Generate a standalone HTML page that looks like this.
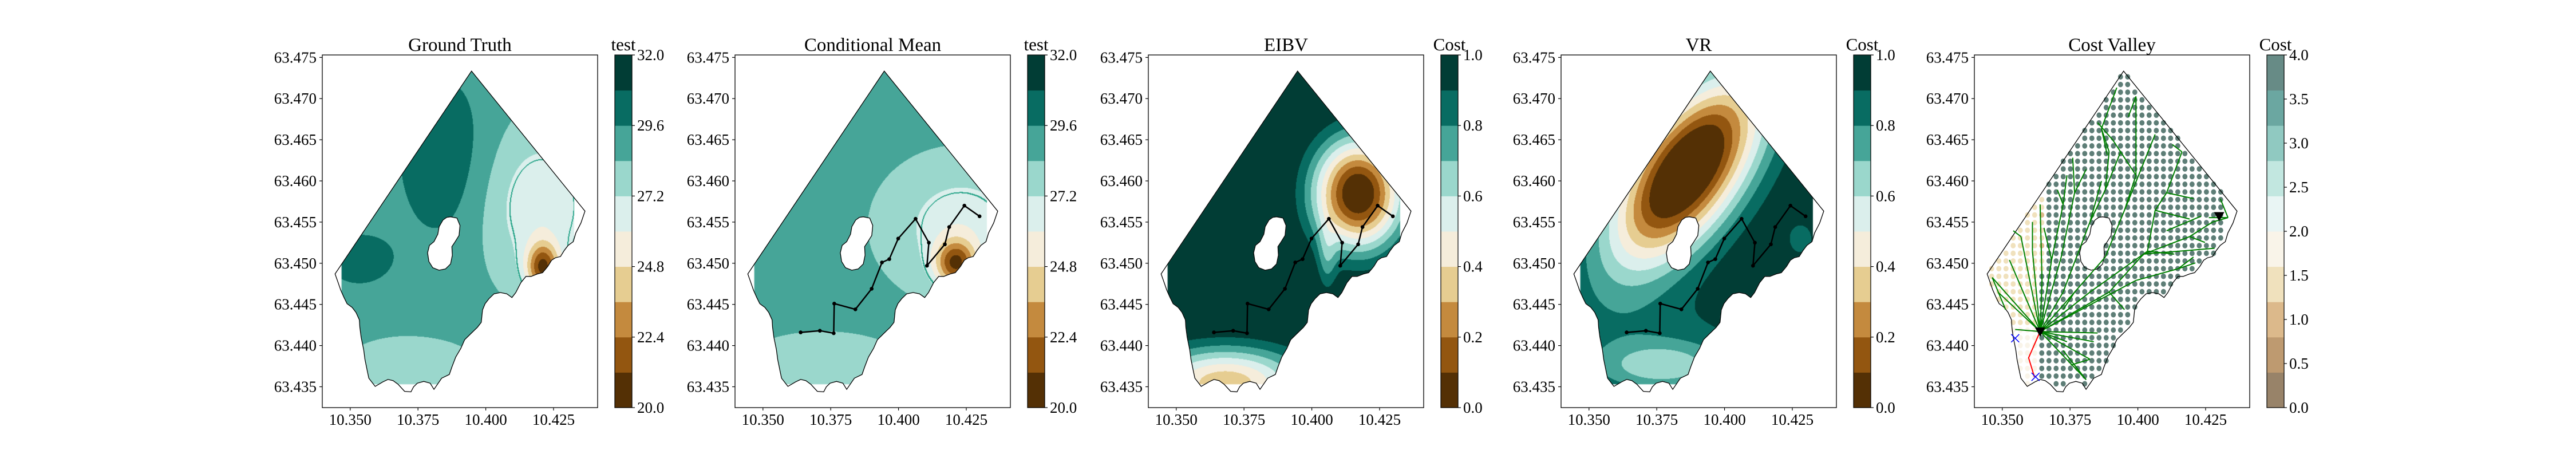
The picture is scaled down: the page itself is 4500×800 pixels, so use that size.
<!DOCTYPE html>
<html><head><meta charset="utf-8"><style>
body{margin:0;width:4500px;height:800px;position:relative;overflow:hidden;background:#fff;font-family:"Liberation Serif",serif}
canvas{position:absolute}
svg{position:absolute;left:0;top:0}
</style></head><body>
<div id="cv"></div>
<svg id="svg" width="4500" height="800" xmlns="http://www.w3.org/2000/svg"></svg>
<script>
// ---- axis constants ----
const LEFTS=[563,1284,2006,2727,3449];
const AXW=481, AXH=616, AXT=96;
const LON0=10.3397, LAT0=63.4753, KX=4736, KY=14380;
function X(i,lon){return LEFTS[i]+(lon-LON0)*KX;}
function Y(lat){return AXT+(LAT0-lat)*KY;}
// ---- data ----
const titles=["Ground Truth","Conditional Mean","EIBV","VR","Cost Valley"];
const cbTitles=["test","test","Cost","Cost","Cost"];
const xTicks=[10.350,10.375,10.400,10.425];
const yTicks=[63.435,63.440,63.445,63.450,63.455,63.460,63.465,63.470,63.475];
const cbMin=[20,20,0,0,0], cbMax=[32,32,1,1,4];
const tickTest=[20.0,22.4,24.8,27.2,29.6,32.0];
const tickUnit=[0.0,0.2,0.4,0.6,0.8,1.0];
const tickCost=[0.0,0.5,1.0,1.5,2.0,2.5,3.0,3.5,4.0];
const BRBG=['#543005','#935610','#c48a3e','#e6cd91','#f5eddb','#dbefec','#9ad7cc','#46a598','#086c62','#013d35'];
// field components: [lon, lat, sigmaAlong, sigmaAcross, angleDeg, amplitude]
const gtBase=28.8;
const gtBumps=[[10.384,63.463,60,110,0,1.7],[10.353,63.4505,45,35,0,1.6],[10.420,63.457,70,95,0,-2.6],[10.372,63.437,80,40,0,-1.3],[10.421,63.4495,20,30,0,-6.8]];
const cmBase=28.7;
const cmBumps=[[10.362,63.468,250,42,56,1.6],[10.423,63.4545,80,70,0,-2.4],[10.421,63.450,25,28,0,-6.5],[10.372,63.437,90,40,0,-1.3]];
const eibvBase=1.05;
const eibvBumps=[[10.417,63.4585,55,68,0,-1.08],[10.368,63.4355,100,45,0,-0.72],[10.4055,63.4505,12,45,0,-0.2]];
const vrBase=1.0;
const vrBumps=[[10.386,63.4612,135,64,55,-1.15],[10.377,63.4375,80,30,0,-0.28],[10.375,63.440,150,70,0,-0.12],[10.428,63.453,20,25,0,-0.15]];
// path (lon, lat)
const pathLon=[10.3639,10.3710,10.3761,10.3763,10.3841,10.3901,10.3939,10.3966,10.3999,10.4063,10.4112,10.4105,10.4171,10.4187,10.4243,10.4299];
const pathLat=[63.4416,63.4418,63.4415,63.4451,63.4444,63.4469,63.4501,63.4505,63.4530,63.4554,63.4525,63.4497,63.4523,63.4544,63.4570,63.4557];
// boundary traced (reference-crop coordinates -> lon/lat)
const bRef=[[817,148],[1261,712],[1245,760],[1225,800],[1215,835],[1195,850],[1180,870],[1165,895],[1145,900],[1130,910],[1115,935],[1095,960],[1075,965],[1050,975],[1030,975],[1010,1000],[990,1040],[975,1060],[955,1045],[930,1040],[905,1045],[885,1065],[870,1085],[860,1110],[855,1160],[840,1180],[815,1205],[790,1230],[775,1265],[755,1300],[740,1340],[730,1370],[700,1385],[670,1430],[655,1405],[630,1398],[605,1405],[590,1420],[580,1440],[555,1438],[530,1410],[510,1395],[490,1390],[470,1400],[440,1418],[415,1385],[410,1360],[405,1335],[400,1310],[395,1270],[385,1220],[380,1180],[378,1150],[365,1120],[350,1100],[330,1085],[318,1060],[305,1030],[295,1000],[283,965]];
const iRef=[[735,735],[760,740],[772,770],[768,810],[750,840],[740,855],[742,890],[735,925],[715,945],[690,950],[665,940],[650,915],[645,880],[652,850],[670,835],[685,805],[690,775],[705,748],[720,737]];
function ref3(p){const ox=1180+p[0]/2.24, oy=60+p[1]/2.306;return [LON0+(ox-1284)/KX, LAT0-(oy-96)/KY];}
function ref2(p){const ox=3450+p[0]/1.493, oy=p[1]/1.96;return [LON0+(ox-3449)/KX, LAT0-(oy-96)/KY];}
const boundary=bRef.map(ref3), island=iRef.map(ref3);
const fillLonMin=10.3468, fillLonMax=10.4326, fillLatMin=63.4353;
// cost valley
const thrLat=[63.430,63.442,63.457,63.480], thrLon=[10.3626,10.3626,10.3669,10.3669];
const brownSpots=[[10.3662,63.4555],[10.3655,63.4525],[10.3662,63.4520],[10.3640,63.4558]];
const treeRef=[[170,1135,105,1128],[170,1135,45,950],[170,1135,60,1000],[170,1135,90,890],[170,1135,120,810],[170,1135,150,860],[170,1135,175,960],[175,960,170,700],[170,1135,200,890],[200,890,230,700],[230,700,215,650],[170,1135,225,880],[225,880,260,660],[260,660,255,540],[170,1135,230,1000],[230,1000,300,760],[300,760,340,650],[340,650,350,520],[350,520,330,440],[170,1135,260,1000],[260,1000,340,880],[340,880,390,720],[390,720,420,600],[420,600,420,330],[170,1135,300,1000],[300,1000,450,860],[450,860,470,720],[470,720,500,660],[500,660,540,520],[540,520,515,495],[170,1135,350,1000],[350,1000,440,870],[440,870,560,810],[560,810,620,760],[620,760,660,745],[660,745,640,680],[170,1135,420,960],[420,960,530,920],[530,920,575,900],[170,1135,320,1140],[170,1135,310,1170],[170,1135,300,1230],[170,1135,240,1170],[170,1135,290,1300],[290,1300,230,1200],[350,1000,390,1060],[440,870,625,850],[500,790,590,740],[390,720,470,460],[340,650,380,520],[300,760,330,620],[420,600,360,480],[330,440,345,530],[330,440,370,300],[230,700,240,600],[470,720,560,750],[530,920,570,880],[500,660,570,680],[610,745,660,745],[260,660,290,580],[200,890,180,780],[420,330,400,400],[360,480,320,420],[450,860,520,870],[560,810,600,830],[150,860,150,760],[120,810,100,790],[45,950,80,1060],[260,1000,230,1060],[300,1230,250,1250]];
const redRef=[[170,1135],[140,1225],[155,1290]];
const xRef=[[105,1158],[158,1290]];
const triRef=[[170,1135],[637,740]];

function blend(h){const r=parseInt(h.substr(1,2),16),g=parseInt(h.substr(3,2),16),b=parseInt(h.substr(5,2),16);
 return [Math.round(102+0.6*r),Math.round(102+0.6*g),Math.round(102+0.6*b)];}
function hex(h){return [parseInt(h.substr(1,2),16),parseInt(h.substr(3,2),16),parseInt(h.substr(5,2),16)];}
function rgbStr(c){return 'rgb('+c[0]+','+c[1]+','+c[2]+')';}
function pip(poly,lon,lat){let ins=false;for(let i=0,j=poly.length-1;i<poly.length;j=i++){const xi=poly[i][0],yi=poly[i][1],xj=poly[j][0],yj=poly[j][1];
 if(((yi>lat)!=(yj>lat))&&(lon<(xj-xi)*(lat-yi)/(yj-yi)+xi))ins=!ins;}return ins;}
function field(base,bumps,lon,lat){let f=base;for(const b of bumps){const dx=(lon-b[0])*KX,dy=(lat-b[1])*KY,a=b[4]*Math.PI/180;
 const u=dx*Math.cos(a)+dy*Math.sin(a),v=-dx*Math.sin(a)+dy*Math.cos(a);f+=b[5]*Math.exp(-0.5*((u/b[2])**2+(v/b[3])**2));}return f;}

const svg=document.getElementById('svg');const NS='http://www.w3.org/2000/svg';
function mk(tag,attrs,parent){const e=document.createElementNS(NS,tag);for(const k in attrs)e.setAttribute(k,attrs[k]);(parent||svg).appendChild(e);return e;}
function txt(x,y,s,size,anchor,parent){const t=mk('text',{x:x,y:y,'font-size':size,'text-anchor':anchor,'font-family':'Liberation Serif, serif',fill:'#000'},parent);t.textContent=s;return t;}

const fields=[[gtBase,gtBumps],[cmBase,cmBumps],[eibvBase,eibvBumps],[vrBase,vrBumps]];
const cvHolder=document.getElementById('cv');
for(let p=0;p<4;p++){
 const cv=document.createElement('canvas');cv.width=AXW;cv.height=AXH;cv.style.left=LEFTS[p]+'px';cv.style.top=AXT+'px';
 
 
 cvHolder.appendChild(cv);
 const off=document.createElement('canvas');off.width=AXW;off.height=AXH;const octx=off.getContext('2d');
 const img=octx.createImageData(AXW,AXH);const F=new Float32Array(AXW*AXH);
 const lo=cbMin[p],hi=cbMax[p];
 for(let py=0;py<AXH;py++)for(let px=0;px<AXW;px++){const lon=LON0+px/KX,lat=LAT0-py/KY;F[py*AXW+px]=field(fields[p][0],fields[p][1],lon,lat);}
 for(let py=0;py<AXH;py++)for(let px=0;px<AXW;px++){const k=py*AXW+px;const f=F[k];
  let idx=Math.floor((f-lo)/(hi-lo)*10);idx=Math.max(0,Math.min(9,idx));let c=hex(BRBG[idx]);
  if(p<2){const a=F[k]-27.0;const r=py<AXH-2?F[k+2*AXW]-27.0:a, q=px<AXW-2?F[k+2]-27.0:a;if(a*r<0||a*q<0)c=[42,165,138];}
  img.data[k*4]=c[0];img.data[k*4+1]=c[1];img.data[k*4+2]=c[2];img.data[k*4+3]=255;}
 octx.putImageData(img,0,0);
 const ctx=cv.getContext('2d');ctx.save();
 ctx.beginPath();ctx.rect((fillLonMin-LON0)*KX,0,(fillLonMax-fillLonMin)*KX,(LAT0-fillLatMin)*KY);ctx.clip();
 ctx.beginPath();for(const poly of [boundary,island]){poly.forEach((q,i)=>{const x=(q[0]-LON0)*KX,y=(LAT0-q[1])*KY;i?ctx.lineTo(x,y):ctx.moveTo(x,y);});ctx.closePath();}
 ctx.clip('evenodd');ctx.drawImage(off,0,0);ctx.restore();
}

for(let p=0;p<5;p++){
 const g=mk('g',{});
 
 
 const L=LEFTS[p];
 if(p===4){
  const dg=mk('g',{},g);
  
  
  for(let j=-30;j<60;j++)for(let i=-40;i<60;i++){const lon=10.36721+i*0.00264,lat=63.45307+j*0.000932;
   if(lat<fillLatMin||lon>fillLonMax)continue;if(!pip(boundary,lon,lat)||pip(island,lon,lat))continue;
   let t=thrLon[0];for(let k=0;k<thrLat.length-1;k++)if(lat>=thrLat[k]&&lat<thrLat[k+1])t=thrLon[k]+(thrLon[k+1]-thrLon[k])*(lat-thrLat[k])/(thrLat[k+1]-thrLat[k]);
   let cost=3.9;if(lon<t){cost=lat<63.4425?1.8:1.3;for(const b of brownSpots)if(Math.abs(b[0]-lon)<0.0013&&Math.abs(b[1]-lat)<0.0005)cost=1.0;}
   const idx=Math.min(9,Math.floor(cost/0.4));const col=idx===9?'#5e7e77':rgbStr(blend(BRBG[idx]));
   const d=mk('ellipse',{cx:X(p,lon),cy:Y(lat),rx:4.4,ry:4.8,fill:col},dg);
   
   }
 }
 const bp=mk('path',{d:[boundary,island].map(poly=>poly.map((q,i)=>(i?'L':'M')+X(p,q[0]).toFixed(1)+' '+Y(q[1]).toFixed(1)).join('')+'Z').join(''),fill:'none',stroke:'#000','stroke-width':1.3},g);
 
 
 if(p>=1&&p<=3){
  const pl=mk('polyline',{points:pathLon.map((v,k)=>X(p,v).toFixed(1)+','+Y(pathLat[k]).toFixed(1)).join(' '),fill:'none',stroke:'#000','stroke-width':2.5},g);
  
  
  pathLon.forEach((v,k)=>{const c=mk('circle',{cx:X(p,v),cy:Y(pathLat[k]),r:3.3,fill:'#000'},g);
   
   });
 }
 if(p===4){
  treeRef.forEach(e=>{const a=ref2([e[0],e[1]]),b=ref2([e[2],e[3]]);
   const l=mk('line',{x1:X(p,a[0]),y1:Y(a[1]),x2:X(p,b[0]),y2:Y(b[1]),stroke:'#008000','stroke-width':2},g);
   
   });
  const rp=redRef.map(ref2);
  const rl=mk('polyline',{points:rp.map(q=>X(p,q[0])+','+Y(q[1])).join(' '),fill:'none',stroke:'#ff0000','stroke-width':2},g);
  
  
  xRef.map(ref2).forEach(q=>{const x=X(p,q[0]),y=Y(q[1]);
   const m=mk('path',{d:`M${x-7} ${y-7}L${x+7} ${y+7}M${x-7} ${y+7}L${x+7} ${y-7}`,stroke:'#0000ff','stroke-width':1.5,fill:'none'},g);
   
   });
  triRef.map(ref2).forEach(q=>{const x=X(p,q[0]),y=Y(q[1]);
   const m=mk('path',{d:`M${x-9} ${y-7}L${x+9} ${y-7}L${x} ${y+9}Z`,fill:'#000'},g);
   
   });
 }
 const fr=mk('rect',{x:L,y:AXT,width:AXW,height:AXH,fill:'none',stroke:'#000','stroke-width':1.3},g);
 
 
 const tt=txt(L+AXW/2,89,titles[p],33,'middle',g);
 
 
 xTicks.forEach(v=>{const x=X(p,v);mk('line',{x1:x,y1:AXT+AXH,x2:x,y2:AXT+AXH+5,stroke:'#000','stroke-width':1.2},g);
  const t=txt(x,742,v.toFixed(3),27,'middle',g);
  
  });
 yTicks.forEach(v=>{const y=Y(v);mk('line',{x1:L-5,y1:y,x2:L,y2:y,stroke:'#000','stroke-width':1.2},g);
  const t=txt(L-10,y+9,v.toFixed(3),27,'end',g);
  
  });
 const cb=mk('g',{},g);
 
 
 const cx=L+511,cw=30,bh=AXH/10;
 for(let k=0;k<10;k++){const col=p===4?rgbStr(blend(BRBG[k])):BRBG[k];
  const r=mk('rect',{x:cx,y:AXT+AXH-(k+1)*bh,width:cw,height:bh+0.5,fill:col},cb);
  
  }
 mk('rect',{x:cx,y:AXT,width:cw,height:AXH,fill:'none',stroke:'#000','stroke-width':1.2},cb);
 const ticks=p<2?tickTest:(p<4?tickUnit:tickCost);
 ticks.forEach(v=>{const y=AXT+AXH-(v-cbMin[p])/(cbMax[p]-cbMin[p])*AXH;
  mk('line',{x1:cx+cw,y1:y,x2:cx+cw+5,y2:y,stroke:'#000','stroke-width':1.2},cb);
  const t=txt(cx+cw+9,y+9,v.toFixed(1),27,'start',cb);
  
  });
 const ct=txt(cx+cw/2,88,cbTitles[p],31,'middle',cb);
 
 
}
</script>
</body></html>
